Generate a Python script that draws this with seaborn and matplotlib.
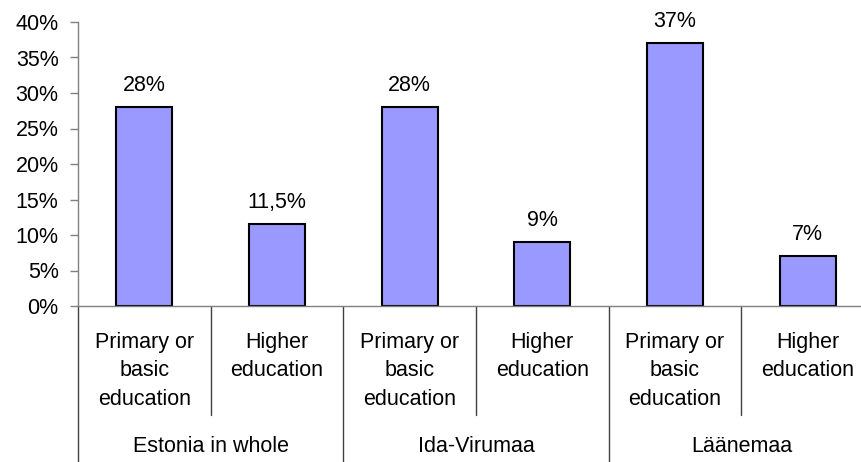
import pandas as pd
import seaborn as sns
import matplotlib.pyplot as plt
import matplotlib.transforms as mtransforms

# data
regions = ["Estonia in whole", "Ida-Virumaa", "Läänemaa"]
levels = ["Primary or\nbasic\neducation", "Higher\neducation"]
values = [28, 11.5, 28, 9, 37, 7]
value_labels = ["28%", "11,5%", "28%", "9%", "37%", "7%"]

rows = []
i = 0
for r in regions:
    for lv in levels:
        rows.append({"key": f"{r}|{lv}", "region": r, "level": lv, "share": values[i]})
        i += 1
data = pd.DataFrame(rows)

sns.set_style("white")
plt.rcParams['font.family'] = ['Liberation Sans', 'DejaVu Sans']
plt.rcParams['text.color'] = 'black'
plt.rcParams['ytick.color'] = 'black'
FS = 15.5
grey = "#808080"

fig = plt.figure(figsize=(8.62, 4.62), dpi=100)
ax = fig.add_axes([78 / 862, 156 / 462, 796 / 862, 284 / 462])

sns.barplot(data=data, x="key", y="share", order=list(data["key"]), color="#9999FF",
            saturation=1, width=0.42, edgecolor="black", linewidth=1.5, ax=ax)

ax.set_ylim(0, 40)
ax.set_yticks(range(0, 41, 5))
ax.set_yticklabels([f"{t}%" for t in range(0, 41, 5)], fontsize=FS, color="black")
ax.tick_params(axis="y", length=6, width=1, color=grey, direction="out", left=True, pad=8)
ax.set_xlabel("")
ax.set_ylabel("")
ax.set_xticks(ax.get_xticks())
ax.set_xticklabels([])
ax.tick_params(axis="x", length=0)
for s in ["top", "right"]:
    ax.spines[s].set_visible(False)
for s in ["left", "bottom"]:
    ax.spines[s].set_color(grey)
    ax.spines[s].set_linewidth(1)
ax.set_xlim(-0.5, len(values) - 0.5)

# value labels above the bars
for p, lab in zip(ax.patches, value_labels):
    ax.annotate(lab, (p.get_x() + p.get_width() / 2, p.get_height()),
                xytext=(0, 8), textcoords="offset points",
                ha="center", va="bottom", fontsize=FS, color="black")

# two-level category axis
trans = mtransforms.blended_transform_factory(ax.transData, ax.transAxes)
xs = list(ax.get_xticks())
for x, (_, row) in zip(xs, data.iterrows()):
    ax.text(x, -0.09, row["level"], transform=trans, ha="center", va="top",
            multialignment="center", fontsize=FS, linespacing=1.48, color="black")

n = len(levels)
for g, r in enumerate(regions):
    gx = xs[g * n:(g + 1) * n]
    ax.text(sum(gx) / n, -0.496, r, transform=trans, ha="center", va="center",
            fontsize=FS, color="black")
    # separator between the two bars in a group
    mid = (gx[0] + gx[1]) / 2
    ax.plot([mid, mid], [0, -0.384], transform=trans, color="#404040", lw=1, clip_on=False)
    # separators between groups
    left = gx[0] - 0.5
    ax.plot([left, left], [0, -0.56], transform=trans, color="#404040", lw=1, clip_on=False)
last = xs[-1] + 0.5
ax.plot([last, last], [0, -0.56], transform=trans, color="#404040", lw=1, clip_on=False)

fig.savefig("out.png", dpi=100)
